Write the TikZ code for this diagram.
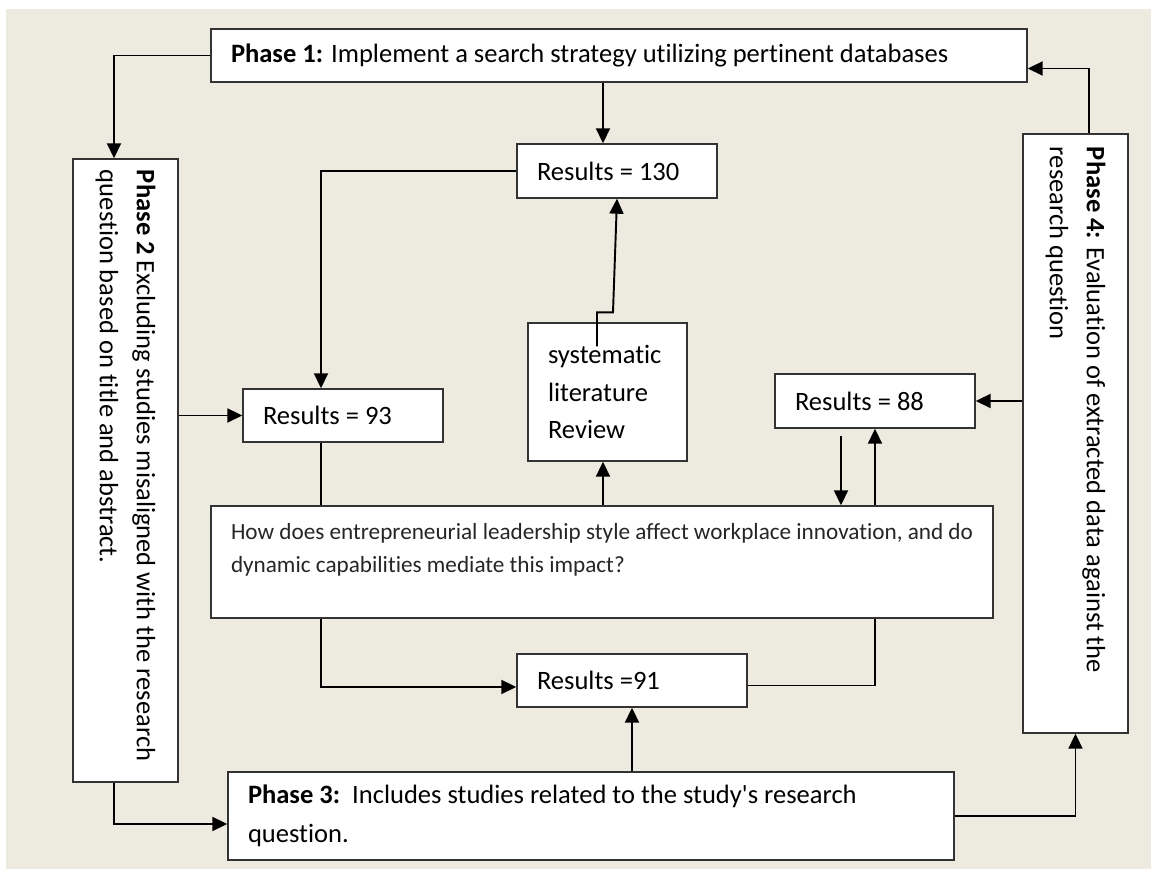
\documentclass[tikz,border=0pt]{standalone}
\usepackage{fontspec}
\setmainfont[Ligatures={TeXOff,CommonOff}]{Carlito}
\usetikzlibrary{arrows.meta}
\definecolor{paper}{RGB}{237,234,224}

\begin{document}
\begin{tikzpicture}[
  box/.style={draw=black!80, line width=0.8pt, fill=white, inner xsep=0.4cm, inner ysep=0pt, align=flush left, font=\fontsize{15.1}{21}\selectfont},
  sidetext/.style={rotate=-90, align=flush left, inner sep=0pt, font=\fontsize{15.1}{21}\selectfont},
  link/.style={line width=1.1pt, -{Triangle[length=0.3cm,width=0.28cm]}},
  plain/.style={line width=1.1pt}
]
  % page and backdrop
  \useasboundingbox (0,0) rectangle (23.02,17.38);
  \fill[paper] (0.12,0) rectangle (23.02,17.2);

  % --- phase boxes ---
  \node[box, minimum width=16.32cm, minimum height=1.06cm, text width=15.52cm] (p1) at (12.38,16.27)
    {\textbf{Phase 1:} Implement a search strategy utilizing pertinent databases};
  \node[box, minimum width=2.1cm, minimum height=12.46cm,
    label={[sidetext, text width=12.02cm]center:{\textbf{Phase 2} Excluding studies misaligned with the research\\ question based on title and abstract.}}] (p2) at (2.51,7.97) {};
  \node[box, minimum width=14.52cm, minimum height=1.76cm, text width=13.72cm, font=\fontsize{15.1}{19}\selectfont] (p3) at (11.82,1.06)
    {\textbf{Phase 3:}\ \ Includes studies related to the study's research\\[3pt] question.};
  \node[box, minimum width=2.1cm, minimum height=11.98cm,
    label={[sidetext, text width=11.46cm]center:{\textbf{Phase 4:} Evaluation of extracted data against the\\ research question}}] (p4) at (21.51,8.71) {};

  % --- results and review ---
  \node[box, minimum width=4cm, minimum height=1.08cm, text width=3.2cm] (r130) at (12.34,13.96) {Results = 130};
  \node[box, minimum width=4cm, minimum height=1.06cm, text width=3.2cm] (r93) at (6.86,9.07) {Results = 93};
  \node[box, minimum width=4cm, minimum height=1.08cm, text width=3.2cm] (r88) at (17.5,9.36) {Results = 88};
  \node[box, minimum width=4.6cm, minimum height=1.06cm, text width=3.8cm] (r91) at (12.64,3.77) {Results =91};
  \node[box, minimum width=3.18cm, minimum height=2.76cm, text width=2.38cm, font=\fontsize{15.1}{21.5}\selectfont] (slr) at (12.15,9.54)
    {systematic\\ literature\\ Review};
  \node[box, minimum width=15.64cm, minimum height=2.24cm, text width=14.84cm, font=\fontsize{13.2}{18.7}\selectfont, text=black!85] (q) at (12.04,6.14)
    {How does entrepreneurial leadership style affect workplace innovation, and do\\ dynamic capabilities mediate this impact?\\[-0.3cm] \strut};

  % --- connector ends ---
  \coordinate (p2in) at ([xshift=-0.23cm]p2.north);
  \coordinate (p2out) at ([xshift=-0.23cm]p2.south);
  \coordinate (p4out) at ([xshift=0.27cm]p4.north);
  \coordinate (p1in) at ([yshift=-0.26cm]p1.east);
  \coordinate (r130in) at ([xshift=-0.28cm]r130.north);
  \coordinate (r93in) at ([xshift=-0.44cm]r93.north);
  \coordinate (r93out) at ([xshift=-0.44cm]r93.south);
  \coordinate (slrin) at ([xshift=-0.09cm]slr.south);
  \coordinate (slrtap) at ([xshift=-0.21cm,yshift=-0.48cm]slr.north);
  \coordinate (r88out) at ([xshift=-0.68cm,yshift=-0.14cm]r88.south);
  \coordinate (r91in) at ([yshift=-0.13cm]r91.west);
  \coordinate (r91side) at ([yshift=-0.1cm]r91.east);
  \coordinate (p3in) at ([yshift=-0.16cm]p3.west);

  % --- connectors ---
  \draw[link] (p1.west) -| (p2in);
  \draw[link] (p4out) |- (p1in);
  \draw[link] (r130in |- p1.south) -- (r130in);
  \draw[link] (r130.west) -| (r93in);
  \draw[link] (r93.west -| p2.east) -- (r93.west);
  \draw[plain] (r93out) -- (r93out |- q.north);
  \draw[link] (slrin |- q.north) -- (slrin);
  \draw[link] (slrtap) -- ++(0,0.68) -- ++(0.32,0) -- (r130.south);
  \draw[link] (p4.west |- r88.east) -- (r88.east);
  \draw[link] (r88out) -- (r88out |- q.north);
  \draw[link] (r88.south |- q.north) -- (r88.south);
  \draw[link] (r93out |- q.south) |- (r91in);
  \draw[plain] (r88.south |- q.south) |- (r91side);
  \draw[link] (r91.south |- p3.north) -- (r91.south);
  \draw[link] (p2out) |- (p3in);
  \draw[link] (p3.east) -| (p4.south);
\end{tikzpicture}
\end{document}
